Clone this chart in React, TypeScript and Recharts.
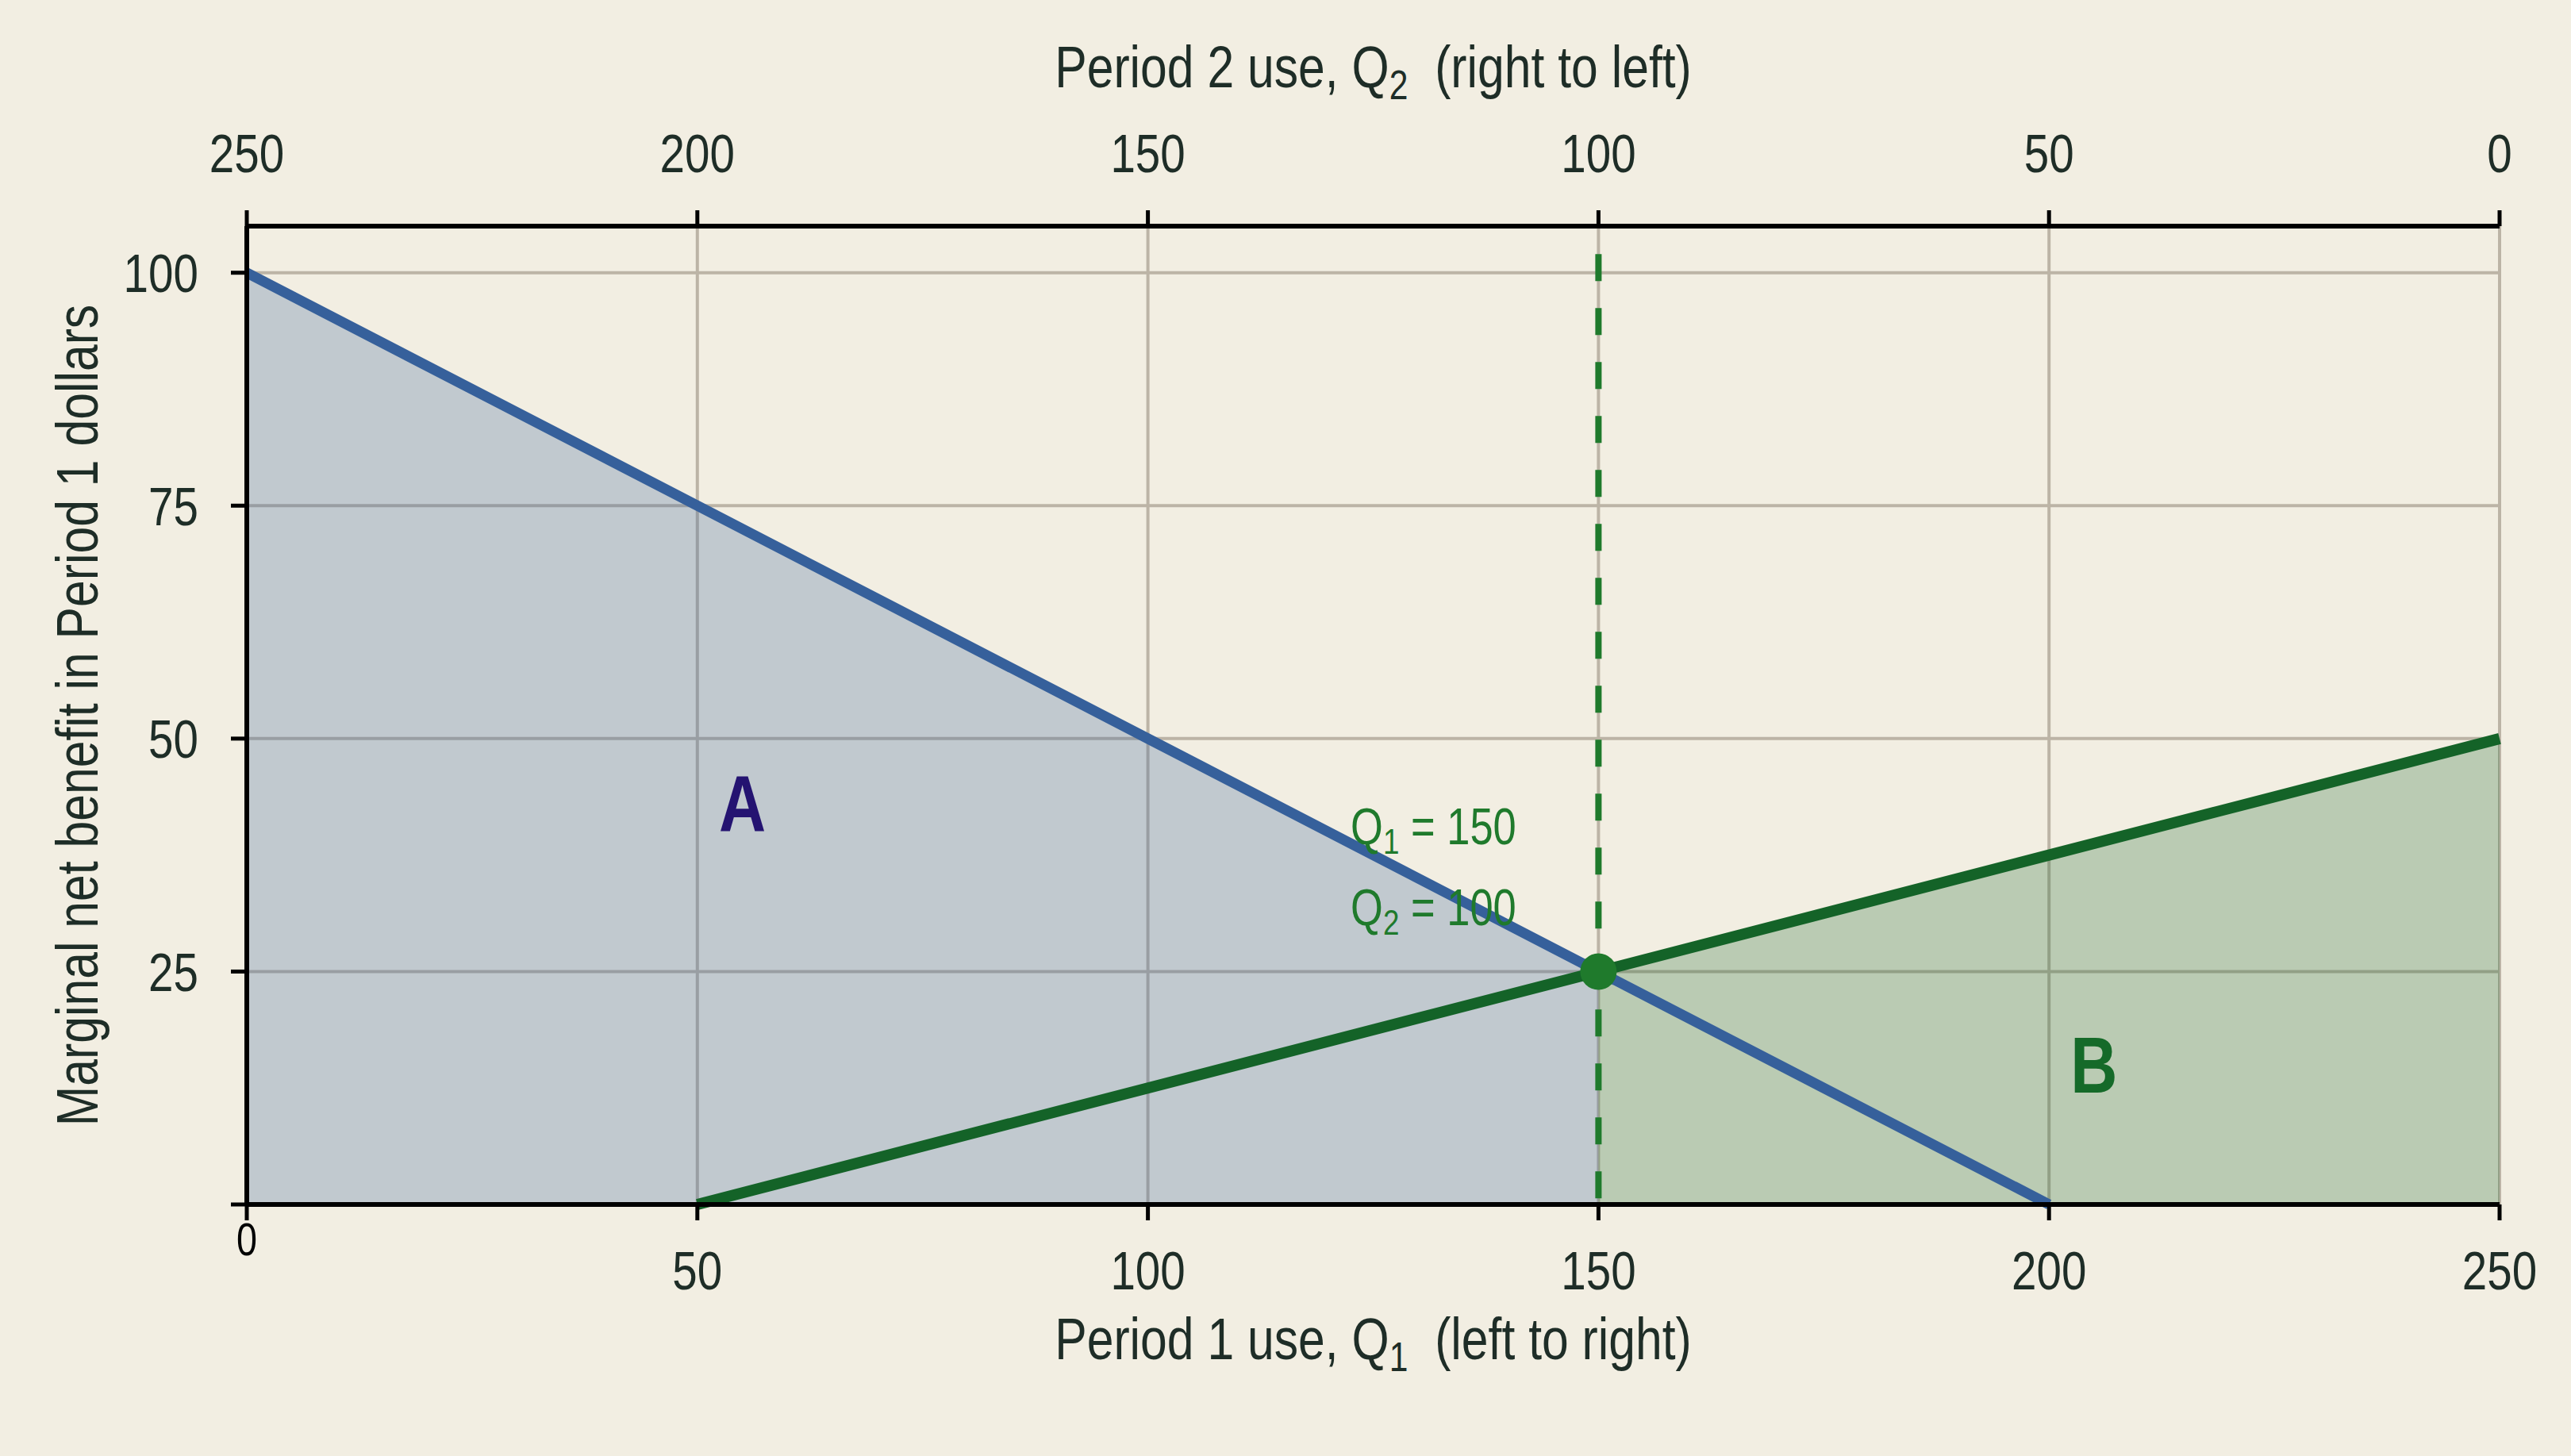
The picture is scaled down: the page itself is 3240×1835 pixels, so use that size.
import { ComposedChart, Line, Area, XAxis, YAxis, CartesianGrid, ReferenceLine, ReferenceDot } from 'recharts';

// Period 1 use on the bottom axis; Period 2 use reads right to left on top
const q1 = [0, 50, 100, 150, 200, 250];
const q2Labels = ['250', '200', '150', '100', '50', '0'];
const mbPeriod1 = [100, 75, 50, 25, 0, null];
const mbPeriod2 = [null, 0, 12.5, 25, 37.5, 50];
const areaA = [100, 75, 50, 25, null, null];
const areaB = [null, null, null, 25, 37.5, 50];
const yTicks = [0, 25, 50, 75, 100];

const data = q1.map((q, i) => ({
  q1: q,
  mb1: mbPeriod1[i],
  mb2: mbPeriod2[i],
  areaA: areaA[i],
  areaB: areaB[i],
}));

// no narrow font installed, so Liberation Sans gets squeezed horizontally
const FONT = "'Liberation Sans', Arial, sans-serif";
const NARROW = 0.82;
const TEXT = '#1e2d27';
const BLUE = '#36609b';
const GREEN = '#146328';
const MARK = '#1f7a2c';

const NText = ({ x, y, rotate, anchor = 'start', size, fill = TEXT, weight, dy, children }: any) => (
  <text
    transform={`translate(${x} ${y})${rotate ? ` rotate(${rotate})` : ''} scale(${NARROW} 1)`}
    textAnchor={anchor}
    dy={dy}
    fill={fill}
    fontSize={size}
    fontWeight={weight}
    fontFamily={FONT}
    style={{ whiteSpace: 'pre' }}
  >
    {children}
  </text>
);

const BottomTick = ({ x, y, payload }: any) => {
  if (payload.value === 0) {
    // origin label sits a little higher, in black
    return (
      <NText x={x} y={y - 34} dy="0.71em" anchor="middle" fill="#000" size={57}>
        0
      </NText>
    );
  }
  return (
    <NText x={x} y={y} dy="0.71em" anchor="middle" size={69}>
      {payload.value}
    </NText>
  );
};

const TopTick = ({ x, y, payload }: any) => (
  <NText x={x} y={y} anchor="middle" size={69}>
    {q2Labels[q1.indexOf(payload.value)]}
  </NText>
);

const LeftTick = ({ x, y, payload }: any) =>
  payload.value === 0 ? null : (
    <NText x={x} y={y} dy="0.355em" anchor="end" size={69}>
      {payload.value}
    </NText>
  );

const Title = ({ viewBox, side, main, sub, rest }: any) => {
  const { x, y, width, height } = viewBox;
  let tx = x + width / 2;
  let ty = 0;
  let rotate = 0;
  if (side === 'top') ty = y - 25;
  if (side === 'bottom') ty = y + 195;
  if (side === 'left') {
    tx = x + 12;
    ty = y + height / 2;
    rotate = -90;
  }
  return (
    <NText x={tx} y={ty} rotate={rotate} anchor="middle" size={74}>
      <tspan>{main}</tspan>
      {sub && (
        <tspan fontSize={52} dy={15}>
          {sub}
        </tspan>
      )}
      {rest && <tspan dy={sub ? -15 : 0}>{rest}</tspan>}
    </NText>
  );
};

const QLabel = ({ viewBox, n, value }: any) => (
  <NText x={viewBox.x} y={viewBox.y} fill={MARK} size={64}>
    <tspan>Q</tspan>
    <tspan fontSize={45} dy={12}>
      {n}
    </tspan>
    <tspan dy={-12}>{` = ${value}`}</tspan>
  </NText>
);

const AreaLabel = ({ viewBox, text, color }: any) => (
  <NText x={viewBox.x} y={viewBox.y} anchor="middle" fill={color} size={100} weight="bold">
    {text}
  </NText>
);

export default function App() {
  return (
    <div style={{ position: 'fixed', left: 0, top: 0, width: 3240, height: 1835, background: '#f2eee2' }}>
      <ComposedChart
        width={3240}
        height={1835}
        data={data}
        margin={{ top: 135, right: 90, left: 111, bottom: 167 }}
      >
        <CartesianGrid stroke="#bcb4a6" strokeWidth={4} />
        <XAxis
          dataKey="q1"
          type="number"
          domain={[0, 250]}
          ticks={q1}
          interval={0}
          height={150}
          tickSize={20}
          tickMargin={38}
          axisLine={{ stroke: '#000', strokeWidth: 6 }}
          tickLine={{ stroke: '#000', strokeWidth: 5 }}
          tick={<BottomTick />}
          label={{ content: (p: any) => <Title {...p} side="bottom" main="Period 1 use, Q" sub="1" rest="  (left to right)" /> }}
        />
        <XAxis
          xAxisId="top"
          orientation="top"
          dataKey="q1"
          type="number"
          domain={[0, 250]}
          ticks={q1}
          interval={0}
          height={150}
          tickSize={20}
          tickMargin={48}
          axisLine={{ stroke: '#000', strokeWidth: 6 }}
          tickLine={{ stroke: '#000', strokeWidth: 5 }}
          tick={<TopTick />}
          label={{ content: (p: any) => <Title {...p} side="top" main="Period 2 use, Q" sub="2" rest="  (right to left)" /> }}
        />
        <YAxis
          type="number"
          domain={[0, 105]}
          ticks={yTicks}
          interval={0}
          width={200}
          tickSize={20}
          tickMargin={41}
          axisLine={{ stroke: '#000', strokeWidth: 6 }}
          tickLine={{ stroke: '#000', strokeWidth: 5 }}
          tick={<LeftTick />}
          label={{ content: (p: any) => <Title {...p} side="left" main="Marginal net benefit in Period 1 dollars" /> }}
        />
        <Area dataKey="areaA" type="linear" stroke="none" fill={BLUE} fillOpacity={0.26} isAnimationActive={false} />
        <Area dataKey="areaB" type="linear" stroke="none" fill={GREEN} fillOpacity={0.25} isAnimationActive={false} />
        <ReferenceLine
          segment={[
            { x: 150, y: 102 },
            { x: 150, y: 0 },
          ]}
          stroke={MARK}
          strokeWidth={8}
          strokeDasharray="34 34"
        />
        <Line dataKey="mb1" type="linear" stroke={BLUE} strokeWidth={13} dot={false} isAnimationActive={false} />
        <Line dataKey="mb2" type="linear" stroke={GREEN} strokeWidth={14} dot={false} isAnimationActive={false} />
        <ReferenceDot x={150} y={25} r={23} fill={MARK} stroke="none" />
        <ReferenceDot x={122.5} y={38.7} r={0} stroke="none" label={{ content: (p: any) => <QLabel {...p} n="1" value="150" /> }} />
        <ReferenceDot x={122.5} y={30} r={0} stroke="none" label={{ content: (p: any) => <QLabel {...p} n="2" value="100" /> }} />
        <ReferenceDot x={55} y={40} r={0} stroke="none" label={{ content: (p: any) => <AreaLabel {...p} text="A" color="#241371" /> }} />
        <ReferenceDot x={205} y={12} r={0} stroke="none" label={{ content: (p: any) => <AreaLabel {...p} text="B" color="#156a29" /> }} />
      </ComposedChart>
    </div>
  );
}
